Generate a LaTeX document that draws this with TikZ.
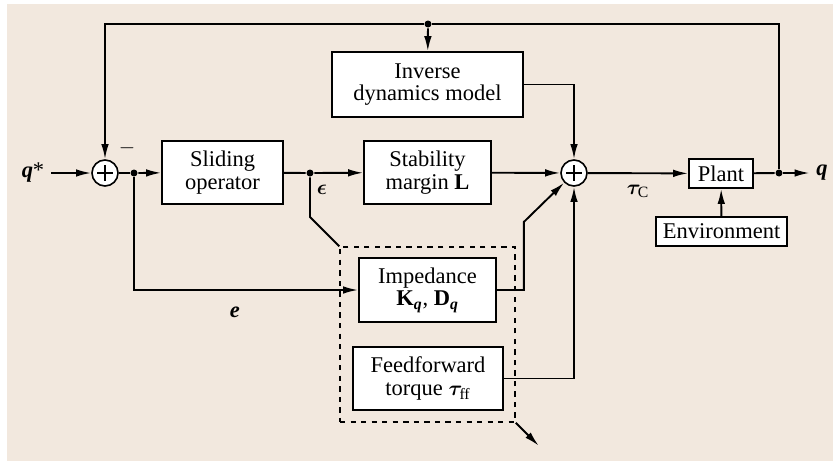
\documentclass[tikz,border=0pt]{standalone}
\usepackage{fontspec}
\setmainfont{Liberation Serif}
\usepackage{amsmath}
\usepackage{bm}
\usetikzlibrary{arrows.meta}
\definecolor{paper}{RGB}{242,232,222}

\begin{document}
\begin{tikzpicture}[x=0.2mm, y=-0.2mm, >={Latex[length=3mm,width=1.5mm]},
    line width=0.38mm,
    block/.style={draw, fill=white, line width=0.32mm, align=center, inner sep=0pt,
        font=\fontsize{12.8}{13}\selectfont},
    summer/.style={draw, circle, fill=white, minimum size=5.2mm, inner sep=0pt, line width=0.32mm,
        path picture={\draw[line width=0.3mm]
            ([xshift=-1.6mm]path picture bounding box.center) -- ++(3.2mm,0)
            ([yshift=-1.6mm]path picture bounding box.center) -- ++(0,3.2mm);}},
    dot/.style={circle, fill, inner sep=0pt, minimum size=1.4mm},
    lbl/.style={font=\fontsize{12.8}{13}\selectfont}]

    % Background
    \useasboundingbox (0,0) rectangle (833,461);
    \fill[paper] (7,4) rectangle (833,461);

    % Blocks
    \node[block, minimum width=38.2mm, minimum height=13mm] (inv) at (427.5,84.5) {Inverse\\dynamics model};
    \node[block, minimum width=24.2mm, minimum height=12.6mm] (slide) at (222.5,172.5) {Sliding\\operator};
    \node[block, minimum width=25.4mm, minimum height=12.6mm] (stab) at (427.5,172.5) {Stability\\margin \textbf{L}};
    \node[block, minimum width=12.8mm, minimum height=5.8mm] (plant) at (721,173.5) {Plant};
    \node[block, minimum width=26.2mm, minimum height=5.8mm] (env) at (721.5,231.5) {Environment};
    \node[draw, dashed, line width=0.3mm, minimum width=35mm, minimum height=35mm] (grp) at (427.5,334.5) {};
    \node[block, minimum width=27.4mm, minimum height=12.8mm] (imp) at (427.5,290)
        {Impedance\\\textbf{K}\textsubscript{\textbf{\textit{q}}}, \textbf{D}\textsubscript{\textbf{\textit{q}}}};
    \node[block, minimum width=30mm, minimum height=12.6mm] (ff) at (428,378.5)
        {Feedforward\\torque $\bm{\tau}_{\text{ff}}$};

    % Summing junctions
    \node[summer] (s1) at (105,173) {};
    \node[summer] (s2) at (574,173) {};

    % Branch points
    \node[dot] (d1) at (134,173) {};
    \node[dot] (d2) at (310,173) {};
    \node[dot] (d3) at (779,173) {};
    \node[dot] (d4) at (428,24) {};

    % Input and output
    \node[lbl] (qin) at (33,173) {\textbf{\textit{q}}*};
    \node[lbl] (qout) at (822,173) {\textbf{\textit{q}}};

    % Forward path
    \draw[->] (qin) -- (s1);
    \draw (s1) -- (d1);
    \draw[->] (d1) -- (slide);
    \draw (slide) -- (d2);
    \draw[->] (d2) -- (stab);
    \draw[->] (stab) -- (s2);
    \draw[->] (s2) -- (plant) node[lbl, midway, below=1mm] {$\bm{\tau}_{\text{C}}$};
    \draw (plant) -- (d3);
    \draw[->] (d3) -- (qout);
    \draw[->] (env) -- (plant);

    % Feedback
    \draw[->] (d3) |- (d4) -| (s1);
    \draw[->] (d4) -- (inv);
    \draw[->] (inv) -| (s2);

    % Impedance and feedforward
    \draw[->] (d1) |- (imp) node[lbl, pos=0.725, below=2mm] {\textbf{\textit{e}}};
    \draw (d2) -- ++(0,44) -- (grp.north west);
    \draw[->] (imp.east) -- ++(27,0) -- ++(0,-68) -- (s2);
    \draw[->] (ff) -| (s2);
    \draw[->] (grp.south east) -- ++(23,23);

    % Signs and labels
    \node[lbl] at (127,148) {$-$};
    \node[lbl] at (322,190) {$\bm{\epsilon}$};

\end{tikzpicture}
\end{document}
